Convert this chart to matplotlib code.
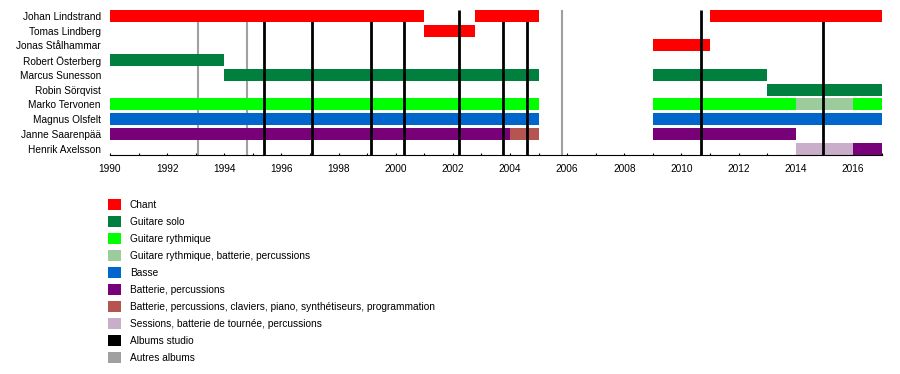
import matplotlib
matplotlib.use("Agg")
import matplotlib.pyplot as plt
from matplotlib.patches import Patch

plt.rcParams['font.family'] = ['Liberation Sans', 'DejaVu Sans']

members = ["Johan Lindstrand", "Tomas Lindberg", "Jonas Stålhammar", "Robert Österberg",
           "Marcus Sunesson", "Robin Sörqvist", "Marko Tervonen", "Magnus Olsfelt",
           "Janne Saarenpää", "Henrik Axelsson"]

roles = ["Chant", "Guitare solo", "Guitare rythmique",
         "Guitare rythmique, batterie, percussions", "Basse", "Batterie, percussions",
         "Batterie, percussions, claviers, piano, synthétiseurs, programmation",
         "Sessions, batterie de tournée, percussions"]
role_colors = ["#FF0000", "#007F3F", "#00FF00", "#9CCC9C", "#0066CC", "#780078",
               "#B4554F", "#C9AEC9"]

# segments: member index, start, end, role index
seg_member = [0, 0, 0, 1, 2, 3, 4, 4, 5, 6, 6, 6, 6, 7, 7, 8, 8, 8, 9, 9]
seg_start = [1990, 2002.77, 2011, 2001, 2009, 1990, 1994, 2009, 2013, 1990, 2009, 2014, 2016,
             1990, 2009, 1990, 2004, 2009, 2014, 2016]
seg_end = [2001, 2005, 2017, 2002.77, 2011, 1994, 2005, 2013, 2017, 2005, 2014, 2016, 2017,
           2005, 2017, 2004, 2005, 2014, 2016, 2017]
seg_role = [0, 0, 0, 0, 0, 1, 1, 1, 1, 2, 2, 3, 2, 4, 4, 5, 6, 5, 7, 5]

studio_albums = [1995.40, 1997.08, 1999.15, 2000.30, 2002.23, 2003.77, 2004.58, 2010.70, 2014.97]
other_albums = [1993.07, 1994.81, 2005.81]

legend_labels = roles + ["Albums studio", "Autres albums"]
legend_colors = role_colors + ["#000000", "#A0A0A0"]

fig = plt.figure(figsize=(9, 3.74), dpi=100)
ax = fig.add_axes([110 / 900, 1 - 154.5 / 374, (881.5 - 110) / 900, (154.5 - 10) / 374])

for m, s, e, r in zip(seg_member, seg_start, seg_end, seg_role):
    ax.barh(m, e - s, left=s, height=0.8, color=role_colors[r], linewidth=0,
            zorder=5 if m == 0 else 2)

ax.vlines(other_albums, -0.4, len(members) - 0.6, colors="#A0A0A0", linewidth=1.5, zorder=1)
ax.vlines(studio_albums, -0.4, len(members) - 0.6, colors="#000000", linewidth=2.0, zorder=3)

ax.set_xlim(1990, 2017)
ax.set_ylim(len(members) - 0.6, -0.4)
ax.set_yticks(range(len(members)))
ax.set_yticklabels(members, fontsize=7.3)
ax.tick_params(axis='y', length=0, pad=6.5)
ax.set_xticks(range(1990, 2017, 2))
ax.set_xticks(range(1991, 2018, 2), minor=True)
ax.tick_params(axis='x', which='both', direction='in', length=1.8, width=0.8,
               labelsize=7.3, pad=6.5)
for sp in ['left', 'right', 'top']:
    ax.spines[sp].set_visible(False)
ax.spines['bottom'].set_linewidth(0.8)

handles = [Patch(facecolor=c, edgecolor='none') for c in legend_colors]
fig.legend(handles, legend_labels, loc='upper left',
           bbox_to_anchor=(108 / 900, 1 - 199 / 374), frameon=False, fontsize=7.3,
           borderpad=0, borderaxespad=0, handlelength=1.29, handleheight=1.29,
           handletextpad=0.85, labelspacing=0.59)

fig.savefig("out.png", dpi=100)
